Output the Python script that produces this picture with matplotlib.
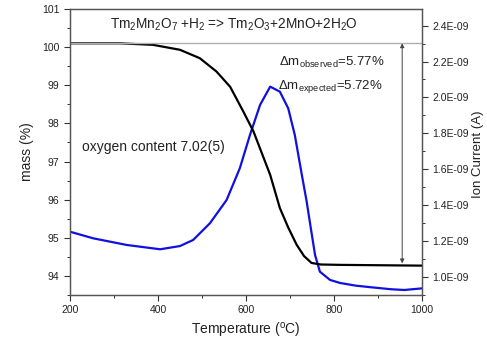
import numpy as np
import matplotlib.pyplot as plt
from matplotlib.ticker import MultipleLocator, FuncFormatter

plt.rcParams['font.family'] = 'Liberation Sans'
plt.rcParams['mathtext.fontset'] = 'custom'
plt.rcParams['mathtext.rm'] = 'Liberation Sans'
plt.rcParams['mathtext.it'] = 'Liberation Sans:italic'

# TG mass loss (%)
temp_mass = [200, 314, 389, 450, 495, 533, 564, 594, 617, 639, 655, 677,
             696, 715, 732, 749, 770, 814, 1000]
mass = [100.1, 100.1, 100.06, 99.93, 99.71, 99.36, 98.96, 98.31, 97.79,
        97.13, 96.65, 95.78, 95.27, 94.82, 94.52, 94.34, 94.3, 94.29, 94.27]

# MS ion current, water signal, in units of 1E-09 A
temp_ion = [200, 253, 329, 405, 450, 480, 518, 556, 586, 609, 632, 655, 677,
            696, 711, 727, 738, 745, 757, 768, 791, 814, 850, 889, 930, 960, 1000]
ion = [1.251, 1.214, 1.177, 1.153, 1.171, 1.205, 1.298, 1.428, 1.605, 1.79,
       1.958, 2.06, 2.032, 1.939, 1.79, 1.567, 1.418, 1.307, 1.121, 1.028,
       0.982, 0.965, 0.95, 0.94, 0.93, 0.926, 0.935]

mass_start = 100.1
mass_end = 94.33

fig = plt.figure(figsize=(4.87, 3.41), dpi=100)
ax = fig.add_axes([0.1437, 0.1349, 0.7228, 0.8387])
ax2 = ax.twinx()
ax.set_zorder(ax2.get_zorder() + 1)
ax.patch.set_visible(False)

ax2.plot(temp_ion, ion, color='#1010e0', lw=1.6, solid_joinstyle='round')
ax.plot(temp_mass, mass, color='black', lw=1.6, solid_joinstyle='round')
ax.axhline(mass_start, color='#b0b0b0', lw=1.0)

ax.annotate('', xy=(955, mass_end), xytext=(955, mass_start),
            arrowprops=dict(arrowstyle='<|-|>', color='#444444', lw=0.7,
                            mutation_scale=6, shrinkA=0, shrinkB=0))

ax.set_xlim(200, 1000)
ax.set_ylim(93.5, 101)
ax2.set_ylim(0.898, 2.493)

ax.xaxis.set_major_locator(MultipleLocator(200))
ax.xaxis.set_minor_locator(MultipleLocator(100))
ax.yaxis.set_major_locator(MultipleLocator(1))
ax.yaxis.set_minor_locator(MultipleLocator(0.5))
ax2.yaxis.set_major_locator(MultipleLocator(0.2))
ax2.yaxis.set_minor_locator(MultipleLocator(0.1))
ax2.yaxis.set_major_formatter(FuncFormatter(lambda v, p: '%.1fE-09' % v))

for a in (ax, ax2):
    a.tick_params(which='major', direction='out', length=4, width=0.8,
                  labelsize=7.5, colors='#333333', labelcolor='#222222')
    a.tick_params(which='minor', direction='out', length=2, width=0.7,
                  colors='#333333')
    for s in a.spines.values():
        s.set_color('#555555')
        s.set_linewidth(0.9)

ax.set_xlabel('Temperature ($^{\\rm o}$C)', fontsize=10, color='#222222')
ax.set_ylabel('mass (%)', fontsize=10, color='#222222', labelpad=6)
# right-hand label placed by hand so it clears the long tick labels
fig.text(0.981, 0.547, 'Ion Current (A)', rotation=90, ha='center',
         va='center', fontsize=9.5, color='#222222')

ax.text(573, 100.58, 'Tm$_2$Mn$_2$O$_7$ +H$_2$ => Tm$_2$O$_3$+2MnO+2H$_2$O',
        ha='center', va='center', fontsize=9.8, color='#222222')
ax.text(227, 97.39, 'oxygen content 7.02(5)', ha='left', va='center',
        fontsize=10, color='#222222')
ax.text(914, 99.6, '$\\Delta$m$_{\\rm observed}$=5.77%', ha='right',
        va='center', fontsize=9.5, color='#222222')
ax.text(673, 98.98, '$\\Delta$m$_{\\rm expected}$=5.72%', ha='left',
        va='center', fontsize=9.5, color='#222222')

fig.savefig('out.png', dpi=100)
